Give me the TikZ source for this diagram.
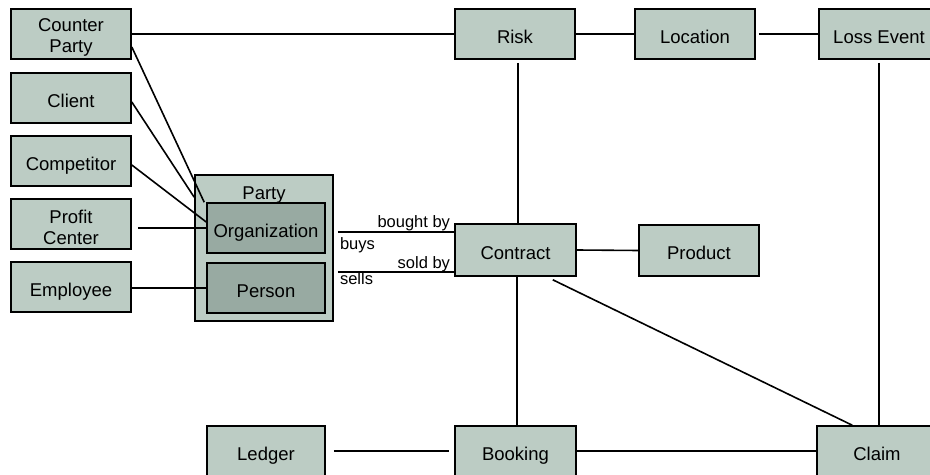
\documentclass[tikz,border=0pt]{standalone}
\usepackage{fontspec}
\setmainfont{Liberation Sans}
\definecolor{boxfill}{HTML}{BCCCC4}
\definecolor{darkfill}{HTML}{98AAA2}
\begin{document}
\begin{tikzpicture}[x=1bp,y=-1bp,
  boxbase/.style={draw=black,line width=1.6bp,fill=boxfill,minimum width=120bp,minimum height=50bp,inner sep=0pt,align=center,font=\fontsize{18.5bp}{21bp}\selectfont},
  box/.style={boxbase,text height=18.3bp,text depth=0pt},
  inbox/.style={box,fill=darkfill,minimum width=118bp},
  twolbl/.style={align=center,inner sep=0pt,yshift=-3.8bp,font=\fontsize{18.5bp}{21bp}\selectfont},
  conn/.style={draw=black,line width=1.6bp},
  lbl/.style={inner sep=0pt,font=\fontsize{16.5bp}{19bp}\selectfont}]
\useasboundingbox (0,0) rectangle (930,475);
% left column
\node[boxbase,label={[twolbl]center:{Counter\\Party}}] (cp) at (71,34) {};
\node[box] (client) at (71,98) {Client};
\node[box] (comp) at (71,161) {Competitor};
\node[boxbase,label={[twolbl]center:{Profit\\Center}}] (pc) at (71,224) {};
\node[box] (emp) at (71,287) {Employee};
% party
\node[boxbase,minimum width=138bp,minimum height=146bp] (party) at (264,248) {};
\node[anchor=base,inner sep=0pt,font=\fontsize{18.5bp}{21bp}\selectfont] (partylbl) at (264,200) {Party};
\node[inbox] (org) at (266,228) {Organization};
\node[inbox] (person) at (266,288) {Person};
% top row
\node[box] (risk) at (515,34) {Risk};
\node[box] (loc) at (695,34) {Location};
\node[box] (loss) at (879,34) {Loss Event};
% middle
\node[box,minimum width=121bp,minimum height=52bp] (contract) at (515.5,250) {Contract};
\node[box,minimum height=51bp] (product) at (699,250.5) {Product};
% bottom
\node[box,minimum width=118bp] (ledger) at (266,451) {Ledger};
\node[box,minimum width=121bp] (booking) at (515.5,451) {Booking};
\node[box] (claim) at (877,451) {Claim};
% connectors
\draw[conn] (cp.east) -- (risk.west);
\draw[conn] (risk.east) -- (loc.west);
\draw[conn,shorten <=3bp] (loc.east) -- (loss.west);
\draw[conn,shorten <=3bp] ([xshift=3bp]risk.south) -- ([xshift=3bp]risk.south |- contract.north);
\draw[conn,shorten <=3bp] (loss.south) -- (loss.south |- claim.north);
\draw[conn] ([yshift=-13bp]cp.east) -- ([xshift=-2bp]org.north west);
\draw[conn] ([yshift=-4bp]client.east) -- ([yshift=-23bp]party.north west);
\draw[conn] ([yshift=-4bp]comp.east) -- ([yshift=6bp]org.west);
\draw[conn] ([xshift=6bp]pc.east |- org.west) -- (org.west);
\draw[conn] (emp.east |- person.west) -- (person.west);
% contract relations
\coordinate (bb) at ([yshift=-9bp]contract.north west);
\coordinate (sb) at ([yshift=5bp]contract.south west);
\draw[conn] ([xshift=4bp]party.east |- bb) coordinate (bbs) -- (bb);
\draw[conn] ([xshift=4bp]party.east |- sb) coordinate (sbs) -- (sb);
\node[lbl,anchor=base east] (lbb) at ([xshift=-4bp,yshift=5bp]bb) {bought by};
\node[lbl,anchor=base west] (lbuys) at ([xshift=2bp,yshift=-17bp]bbs) {buys};
\node[lbl,anchor=base east] (lsb) at ([xshift=-4bp,yshift=3bp]sb) {sold by};
\node[lbl,anchor=base west] (lsells) at ([xshift=2bp,yshift=-13bp]sbs) {sells};
\draw[conn] (contract.east) -- (product.west);
\draw[conn] ([xshift=-24bp,yshift=-3bp]contract.south east) -- ([xshift=36bp]claim.north west);
\draw[conn] ([xshift=1.5bp]contract.south) -- ([xshift=1.5bp]booking.north);
\draw[conn,shorten <=8bp,shorten >=5bp] (ledger.east) -- (booking.west);
\draw[conn] (booking.east) -- (claim.west);
\end{tikzpicture}
\end{document}
